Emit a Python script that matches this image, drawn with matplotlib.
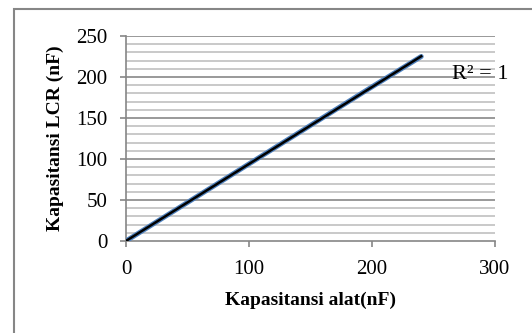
import numpy as np
import matplotlib
matplotlib.use("Agg")
import matplotlib.pyplot as plt
from matplotlib.patches import Rectangle

# --- DATA ---
alat_nF = [0, 50, 100, 150, 200, 240]        # Kapasitansi alat (nF)
lcr_nF = [0, 47, 94, 141, 188, 225]          # Kapasitansi LCR (nF)
x_ticks = [0, 100, 200, 300]
y_ticks = [0, 50, 100, 150, 200, 250]
r2_label = "R² = 1"

plt.rcParams['font.family'] = ['Liberation Serif', 'DejaVu Serif']

fig = plt.figure(figsize=(5.32, 3.33), dpi=100)
W, H = 532, 333

# outer chart frame (runs off the right/bottom edge in the reference)
fig.patches.append(Rectangle((14 / W, -0.05), 1.1, 1 - 9 / H + 0.05,
                             transform=fig.transFigure, fill=False,
                             edgecolor='#868686', linewidth=1.5))

ax = fig.add_axes([126 / W, 1 - 241 / H, (495 - 126) / W, (241 - 36) / H])

# gridlines: minor every 10, major every 50
for v in np.arange(10, 251, 10):
    if v % 50 == 0:
        ax.axhline(v, color='#878787', linewidth=1.2, zorder=1)
    else:
        ax.axhline(v, color='#c0c0c0', linewidth=1.2, zorder=1)

# data series and linear trendline
ax.plot(alat_nF, lcr_nF, color='#4f81bd', linewidth=3.6, zorder=3,
        solid_capstyle='round')
k, b = np.polyfit(alat_nF, lcr_nF, 1)
xs = np.array([alat_nF[0], alat_nF[-1]])
ax.plot(xs, k * xs + b, color='black', linewidth=1.8, zorder=4)

ax.text(265, 203, r2_label, fontsize=16, ha='left', va='center')

ax.set_xlim(0, 300)
ax.set_ylim(0, 250)
ax.set_xticks(x_ticks)
ax.set_yticks(y_ticks)
ax.tick_params(axis='both', direction='out', length=4.5, width=1.2,
               color='#868686', labelsize=15, pad=9)
ax.tick_params(axis='x', pad=9)

for side in ['top', 'right']:
    ax.spines[side].set_visible(False)
for side in ['left', 'bottom']:
    ax.spines[side].set_color('#868686')
    ax.spines[side].set_linewidth(1.2)

ax.set_xlabel("Kapasitansi alat(nF)", fontsize=14, fontweight='bold')
ax.set_ylabel("Kapasitansi LCR (nF)", fontsize=14, fontweight='bold')
ax.xaxis.set_label_coords(0.5, (241 - 300) / 205)
ax.xaxis.label.set_va('center')
ax.yaxis.set_label_coords((55 - 126) / 369, 0.5)
ax.yaxis.label.set_va('center')

fig.savefig("out.png", dpi=100)
